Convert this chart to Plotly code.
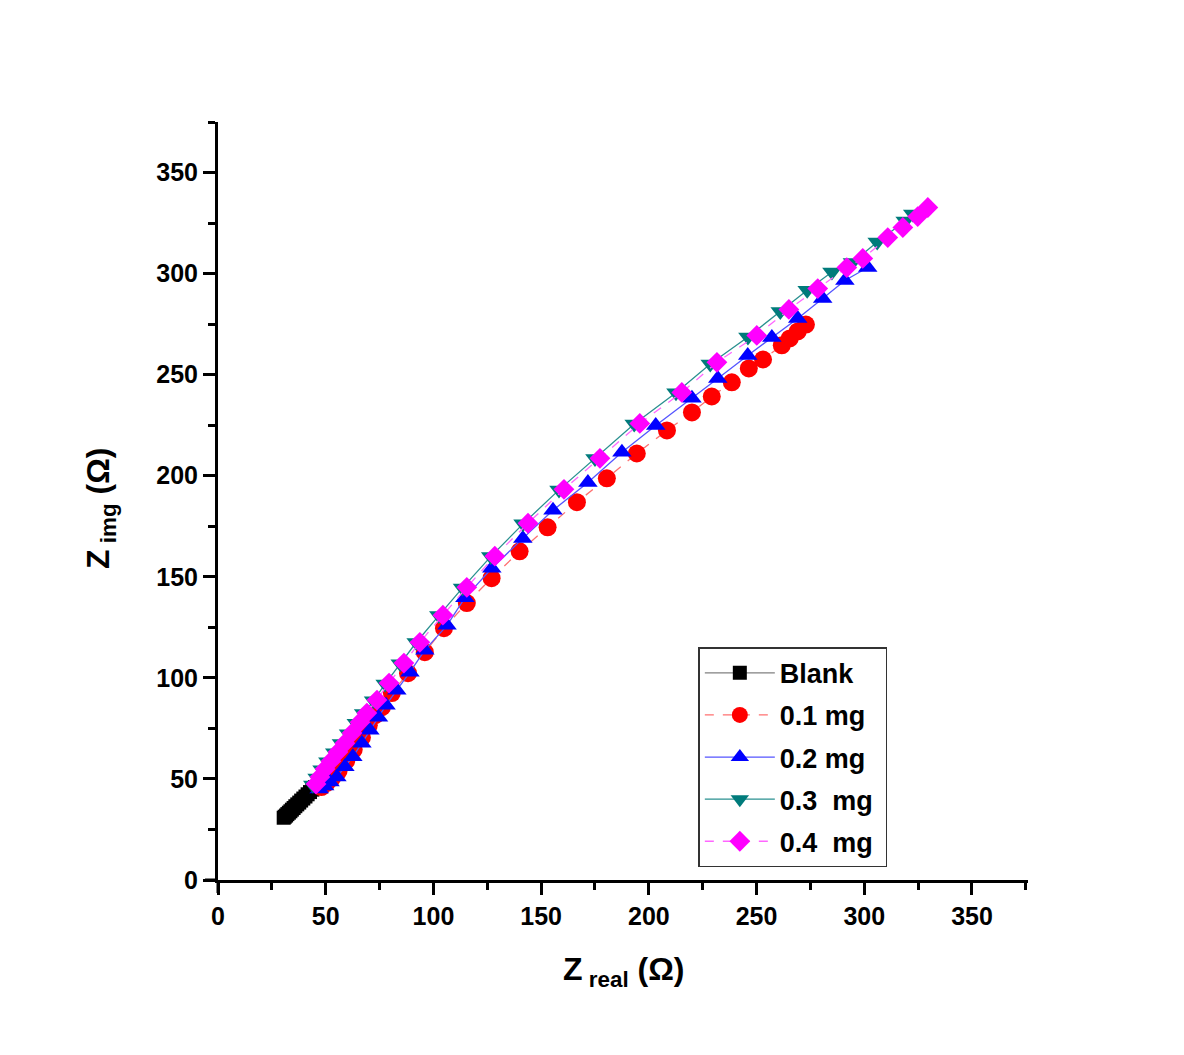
import plotly.graph_objects as go

# Nyquist data (ohm)
blank_x = [30.5, 31.0, 31.6, 32.2, 32.9, 33.6, 34.3, 35.1, 35.9, 36.8, 37.7, 38.6, 39.6, 40.6, 41.6, 42.7, 43.8, 45.0]
blank_y = [30.8, 31.3, 31.9, 32.6, 33.3, 34.0, 34.8, 35.6, 36.5, 37.4, 38.3, 39.3, 40.3, 41.3, 42.4, 43.5, 44.7, 45.9]

mg01_x = [48.0, 50.5, 53.0, 56.0, 59.5, 63.0, 66.8, 70.0, 73.0, 76.1, 80.7, 88.2, 96.0, 104.9, 115.5, 127.0,
          140.0, 153.0, 166.6, 180.5, 194.4, 208.4, 220.0, 229.2, 238.5, 246.4, 253.0, 261.7, 265.4, 269.1, 272.9]
mg01_y = [46.0, 48.0, 50.5, 54.0, 59.0, 64.5, 70.5, 76.5, 81.5, 85.5, 92.5, 102.3, 112.7, 124.6, 137.0, 149.3,
          162.6, 174.5, 186.9, 198.7, 211.0, 222.4, 231.3, 239.2, 246.2, 253.1, 257.5, 264.5, 267.9, 271.4, 274.8]

mg02_x = [47.0, 49.5, 52.0, 55.2, 58.9, 62.6, 66.8, 70.5, 74.5, 78.0, 83.0, 89.1, 96.0, 106.3, 114.6, 127.1,
          141.5, 155.5, 171.7, 187.5, 203.2, 220.0, 232.0, 245.9, 257.1, 269.1, 280.7, 291.0, 301.6]
mg02_y = [45.0, 46.5, 48.5, 51.0, 56.0, 61.0, 67.7, 74.1, 80.5, 86.5, 93.9, 102.8, 113.7, 126.0, 139.6, 154.2,
          169.0, 182.9, 196.7, 211.6, 224.9, 238.3, 248.1, 259.5, 268.4, 277.8, 287.7, 296.6, 303.0]

mg03_x = [44.0, 46.0, 48.3, 51.0, 54.2, 57.3, 60.6, 64.2, 67.6, 72.2, 77.6, 84.6, 92.0, 102.5, 113.5, 126.6,
          141.6, 158.3, 175.0, 193.2, 212.6, 228.5, 246.0, 261.0, 273.5, 285.0, 294.5, 306.0, 319.0, 322.5]
mg03_y = [47.0, 50.5, 54.5, 58.5, 63.0, 67.5, 72.3, 77.6, 82.4, 88.7, 97.0, 107.0, 117.5, 130.8, 144.5, 160.0,
          176.2, 193.0, 208.5, 225.6, 241.0, 255.3, 268.6, 281.3, 291.8, 300.8, 305.5, 315.6, 326.0, 329.5]

mg04_x = [45.5, 47.3, 49.7, 52.4, 55.7, 58.9, 62.2, 65.9, 69.1, 73.8, 79.4, 86.3, 93.7, 104.4, 115.5, 128.5,
          143.9, 160.6, 177.3, 195.8, 215.3, 231.6, 250.1, 265.0, 278.4, 291.9, 299.3, 310.9, 317.9, 324.8, 329.5]
mg04_y = [47.5, 50.9, 54.9, 58.8, 63.3, 67.7, 72.7, 78.1, 82.6, 89.0, 97.4, 107.3, 117.6, 131.0, 144.8, 160.2,
          176.5, 193.3, 208.6, 225.9, 241.2, 256.1, 269.4, 282.3, 292.6, 303.0, 307.5, 317.8, 322.8, 328.2, 332.7]

x_ticks = [0, 50, 100, 150, 200, 250, 300, 350]
y_ticks = [0, 50, 100, 150, 200, 250, 300, 350]

series = [
    ("Blank", blank_x, blank_y, "square", "black", "#808080", "solid", 14),
    ("0.1 mg", mg01_x, mg01_y, "circle", "#ff0000", "#ff7070", "dash", 18),
    ("0.2 mg", mg02_x, mg02_y, "triangle-up", "#0000ff", "#5555ff", "solid", 17),
    ("0.3\u00a0 mg\u00a0", mg03_x, mg03_y, "triangle-down", "#007b7b", "#2a9090", "solid", 17),
    ("0.4\u00a0 mg\u00a0", mg04_x, mg04_y, "diamond", "#ff00ff", "#ff66ff", "dash", 16),
]

fig = go.Figure()
for i, (name, xs, ys, sym, mcol, lcol, dash, size) in enumerate(series):
    fig.add_trace(go.Scatter(
        x=xs, y=ys, mode="lines+markers", name=name, legendgroup=str(i),
        marker=dict(symbol=sym, color=mcol, size=size, line=dict(width=0)),
        line=dict(color=lcol, width=1.3, dash=dash),
    ))

axis_common = dict(
    showline=True, linecolor="black", linewidth=3, mirror=False,
    ticks="outside", ticklen=12, tickwidth=3, tickcolor="black",
    showgrid=False, zeroline=False,
    tickfont=dict(family="Liberation Sans, Arial", size=25, color="black", weight="bold"),
    minor=dict(ticks="outside", ticklen=7, tickwidth=3, tickcolor="black", dtick=25, showgrid=False),
)
fig.update_xaxes(range=[0, 376], tickvals=x_ticks, **axis_common)
fig.update_yaxes(range=[0, 375], tickvals=y_ticks, **axis_common)

# page body adds an 8px offset, so the figure is drawn 16px smaller
fig.update_layout(
    width=1168, height=1039,
    margin=dict(l=210, r=148, t=114, b=167),
    plot_bgcolor="white", paper_bgcolor="white",
    font=dict(family="Liberation Sans, Arial", color="black"),
    legend=dict(
        x=0.593, y=0.307, xanchor="left", yanchor="top",
        bordercolor="#333333", borderwidth=1.5, bgcolor="white",
        font=dict(size=27, weight="bold"), tracegroupgap=4,
        itemwidth=70,
    ),
    showlegend=True,
    shapes=[
        dict(type="line", xref="paper", yref="paper", x0=0, x1=0, y0=-0.0172, y1=0,
             line=dict(color="black", width=3)),
        dict(type="line", xref="paper", yref="paper", x0=-0.016, x1=0, y0=0, y1=0,
             line=dict(color="black", width=3)),
    ],
    annotations=[
        dict(text="<b>Z</b><sub><b> real</b></sub><b> (\u03a9)</b>", xref="paper", yref="paper",
             x=0.5, y=-0.15, showarrow=False, font=dict(size=32)),
        dict(text="<b>Z</b><sub><b> img</b></sub><b> (\u03a9)</b>", xref="paper", yref="paper",
             x=-0.173, y=0.49, showarrow=False, textangle=-90, font=dict(size=32)),
    ],
)

fig.write_html("out.html")
